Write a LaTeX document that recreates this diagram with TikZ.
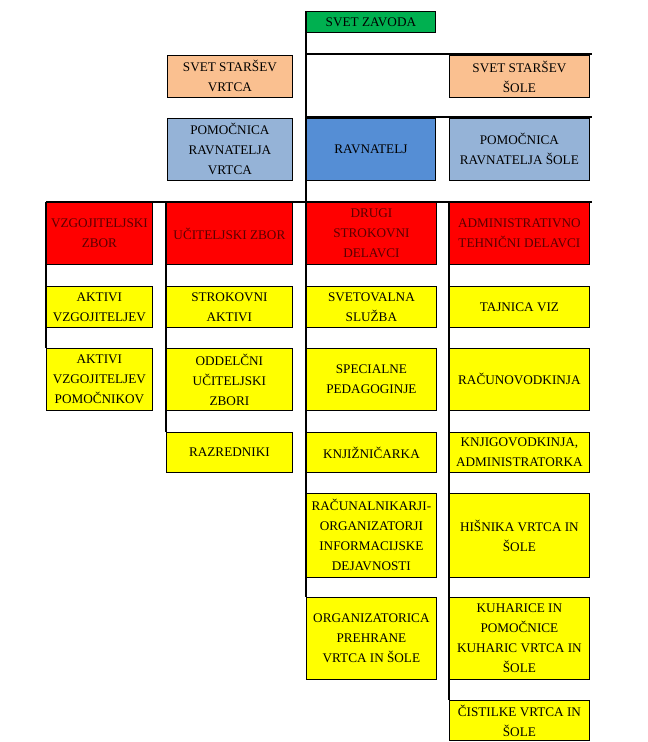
\documentclass[tikz,border=0pt]{standalone}
\usepackage{fontspec}
\setmainfont{Liberation Serif}
\usetikzlibrary{positioning}
\definecolor{zavodgreen}{HTML}{00B050}
\definecolor{starsorange}{HTML}{FAC090}
\definecolor{pomblue}{HTML}{95B3D7}
\definecolor{ravblue}{HTML}{558ED5}
\definecolor{zborred}{HTML}{FF0000}
\definecolor{zbortext}{HTML}{5A0000}
\definecolor{delyellow}{HTML}{FFFF00}
\tikzset{
  box/.style = {
    draw, line width=0.8pt, anchor=north west, align=center, inner sep=1pt,
    font=\fontsize{13.2}{20}\selectfont
  },
  zbor/.style = {box, fill=zborred, text=zbortext},
  delo/.style = {box, fill=delyellow},
  link/.style = {line width=2pt}
}

\begin{document}
\begin{tikzpicture}[x=1pt, y=-1pt]

  \useasboundingbox[fill=white] (0,0) rectangle (648,742);

  % Svet zavoda
  \node [box, fill=zavodgreen, minimum width=129, minimum height=21] (zavod) at (306,11) {SVET ZAVODA};

  % Sveta starsev
  \node [box, fill=starsorange, minimum width=125, minimum height=42] (ssv) at (167,55) {SVET STARŠEV\\VRTCA};
  \node [box, fill=starsorange, minimum width=140, minimum height=42] (sss) at (449,55) {SVET STARŠEV\\ŠOLE};

  % Vodstvo
  \node [box, fill=pomblue, minimum width=125, minimum height=62] (prv) at (167,118) {POMOČNICA\\RAVNATELJA\\VRTCA};
  \node [box, fill=ravblue, minimum width=129, minimum height=62] (rav) at (306,118) {RAVNATELJ};
  \node [box, fill=pomblue, minimum width=140, minimum height=62] (prs) at (449,118) {POMOČNICA\\RAVNATELJA ŠOLE};

  % Zbori
  \node [zbor, minimum width=106, minimum height=62] (vzb) at (46,202) {VZGOJITELJSKI\\ZBOR};
  \node [zbor, minimum width=126, minimum height=62] (uzb) at (166,202) {UČITELJSKI ZBOR};
  \node [zbor, minimum width=130, minimum height=62] (dsd) at (306,202) {DRUGI\\STROKOVNI\\DELAVCI};
  \node [zbor, minimum width=140, minimum height=62] (atd) at (449,202) {ADMINISTRATIVNO\\TEHNIČNI DELAVCI};

  % Vrtec
  \node [delo, minimum width=106, minimum height=41] (av) at (46,286) {AKTIVI\\VZGOJITELJEV};
  \node [delo, minimum width=106, minimum height=62] (avp) at (46,348) {AKTIVI\\VZGOJITELJEV\\POMOČNIKOV};

  % Sola
  \node [delo, minimum width=126, minimum height=41] (sa) at (166,286) {STROKOVNI\\AKTIVI};
  \node [delo, minimum width=126, minimum height=62] (ouz) at (166,348) {ODDELČNI\\UČITELJSKI\\ZBORI};
  \node [delo, minimum width=126, minimum height=40] (raz) at (166,432) {RAZREDNIKI};

  % Strokovni delavci
  \node [delo, minimum width=130, minimum height=41] (ss) at (306,286) {SVETOVALNA\\SLUŽBA};
  \node [delo, minimum width=130, minimum height=62] (sp) at (306,348) {SPECIALNE\\PEDAGOGINJE};
  \node [delo, minimum width=130, minimum height=40] (knj) at (306,432) {KNJIŽNIČARKA};
  \node [delo, minimum width=130, minimum height=84] (rio) at (306,493) {RAČUNALNIKARJI-\\ORGANIZATORJI\\INFORMACIJSKE\\DEJAVNOSTI};
  \node [delo, minimum width=130, minimum height=82] (opv) at (306,597) {ORGANIZATORICA\\PREHRANE\\VRTCA IN ŠOLE};

  % Tehnicni delavci
  \node [delo, minimum width=140, minimum height=41] (tv) at (449,286) {TAJNICA VIZ};
  \node [delo, minimum width=140, minimum height=62] (rac) at (449,348) {RAČUNOVODKINJA};
  \node [delo, minimum width=140, minimum height=40] (kad) at (449,432) {KNJIGOVODKINJA,\\ADMINISTRATORKA};
  \node [delo, minimum width=140, minimum height=84] (hvs) at (449,493) {HIŠNIKA VRTCA IN\\ŠOLE};
  \node [delo, minimum width=140, minimum height=82] (kpk) at (449,597) {KUHARICE IN\\POMOČNICE\\KUHARIC VRTCA IN\\ŠOLE};
  \node [delo, minimum width=140, minimum height=40] (cvs) at (449,700) {ČISTILKE VRTCA IN\\ŠOLE};

  % Povezave
  \coordinate (konec1) at (592,54);
  \coordinate (konec2) at (592,117);
  \coordinate (konec3) at (592,202);
  \draw[link] (zavod.north west) -- (opv.north west);
  \draw[link] (zavod.north west |- konec1) -- (konec1);
  \draw[link] (zavod.north west |- konec2) -- (konec2);
  \draw[link] (vzb.north west) -- (konec3);
  \draw[link] (vzb.north west) -- (avp.north west);
  \draw[link] (uzb.north west) -- (raz.north west);
  \draw[link] (atd.north west) -- (cvs.north west);

\end{tikzpicture}
\end{document}
